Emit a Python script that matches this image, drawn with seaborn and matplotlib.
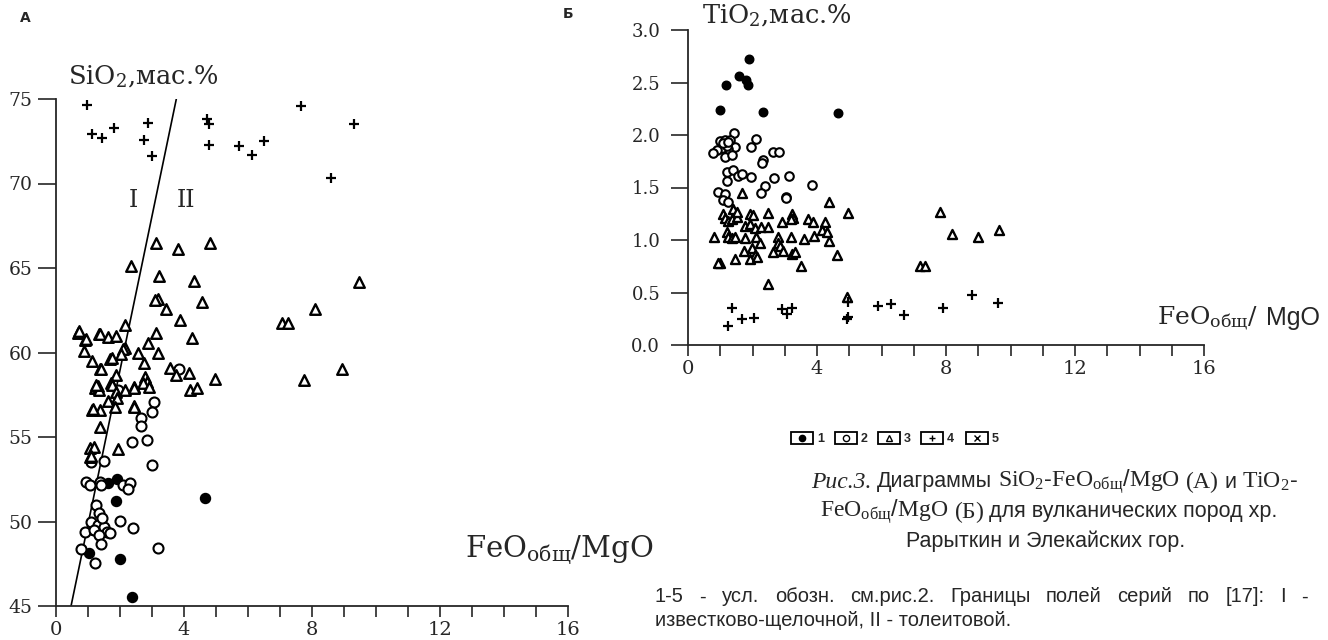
import numpy as np
import pandas as pd
import matplotlib
matplotlib.use('Agg')
import matplotlib.pyplot as plt
import seaborn as sns
from matplotlib.patches import Rectangle

# ---- data ----
# panel A: FeO(tot)/MgO vs SiO2
a_s1_x = [1.63, 1.92, 1.86, 4.66, 1.16, 1.03, 2.0, 2.38]
a_s1_y = [52.26, 52.5, 51.23, 51.41, 49.5, 48.15, 47.8, 45.55]

a_s2_x = [3.85, 3.05, 2.99, 2.65, 2.67, 2.38, 2.83, 3.0, 1.5, 0.95, 1.06, 1.37, 1.42,
          2.1, 2.31, 2.26, 1.24, 1.34, 1.1, 1.3, 1.5, 0.9, 1.2, 1.6, 1.35, 1.7, 1.45,
          2.0, 2.41, 1.4, 0.79, 1.23, 3.18, 1.95, 1.1]
a_s2_y = [59.0, 57.05, 56.46, 56.1, 55.65, 54.72, 54.82, 53.35, 53.58, 52.35, 52.16, 52.35, 52.16,
          52.16, 52.26, 51.9, 51.0, 50.48, 50.0, 49.8, 49.7, 49.4, 49.5, 49.4, 49.2, 49.3, 50.2,
          50.03, 49.6, 48.65, 48.4, 47.56, 48.45, 57.8, 53.5]

a_s3_x = [3.12, 3.82, 4.81, 2.34, 3.23, 4.3, 9.47, 3.2, 3.09, 4.56, 3.44, 3.88, 7.07, 7.25,
          8.08, 3.14, 4.24, 2.88, 3.2, 2.57, 2.76, 3.55, 4.16, 3.75, 4.97, 7.76, 8.93, 4.19,
          4.4, 2.78, 2.83, 2.73, 2.9, 2.43, 2.45, 2.43,
          0.69, 0.72, 0.9, 0.93, 0.88, 1.34, 1.38, 1.63, 1.86, 2.15, 2.15, 2.1, 2.03, 1.11,
          1.7, 1.74, 1.39, 1.42, 1.89, 1.21, 1.3, 1.35, 1.25, 1.71, 1.75, 1.89, 2.15, 2.45,
          1.63, 1.92, 1.84, 1.11, 1.37, 1.15, 1.37, 1.94, 1.06, 1.19, 1.06, 1.1]
a_s3_y = [66.46, 66.1, 66.5, 65.1, 64.5, 64.25, 64.2, 63.15, 63.1, 63.0, 62.6, 61.9, 61.75, 61.75,
          62.55, 61.15, 60.86, 60.56, 59.97, 59.97, 59.4, 59.1, 58.77, 58.65, 58.43, 58.37, 59.0, 57.8,
          57.9, 58.57, 58.27, 58.18, 57.98, 57.98, 56.85, 56.8,
          61.17, 61.25, 60.74, 60.8, 60.1, 61.08, 61.1, 60.94, 60.98, 61.63, 60.25, 60.2, 59.9, 59.5,
          59.6, 59.65, 59.0, 59.05, 58.67, 57.88, 58.0, 57.8, 58.1, 58.18, 58.1, 57.68, 57.78, 57.92,
          57.13, 57.29, 56.76, 56.6, 56.6, 56.65, 55.57, 54.27, 54.33, 54.43, 53.84, 53.9]

a_s4_x = [0.97, 1.11, 1.45, 1.82, 2.86, 2.74, 3.0, 4.73, 4.79, 4.79, 5.71, 6.12, 6.5, 7.67, 8.59, 9.32]
a_s4_y = [74.66, 72.9, 72.7, 73.3, 73.6, 72.6, 71.6, 73.8, 73.5, 72.3, 72.2, 71.7, 72.5, 74.6, 70.3, 73.5]

# boundary I / II (calc-alkaline / tholeiitic)
bound_x = [0.47, 3.76]
bound_y = [45, 75]

# panel B: FeO(tot)/MgO vs TiO2
b_s1_x = [1.9, 1.58, 1.8, 1.87, 1.18, 0.99, 2.32, 4.64]
b_s1_y = [2.72, 2.56, 2.52, 2.48, 2.48, 2.24, 2.22, 2.21]

b_s2_x = [1.44, 0.99, 1.15, 1.3, 1.46, 1.25, 1.04, 0.89, 0.78, 1.15, 1.35, 1.2, 1.1, 1.25,
          2.1, 1.95, 2.65, 2.82, 2.34, 2.28, 1.2, 1.4, 1.54, 1.68, 1.2, 1.95, 2.67, 3.14,
          2.39, 2.27, 3.85, 0.94, 1.15, 1.1, 1.25, 3.03, 3.05]
b_s2_y = [2.02, 1.94, 1.95, 1.95, 1.89, 1.87, 1.88, 1.86, 1.83, 1.79, 1.81, 1.9, 1.92, 1.93,
          1.96, 1.89, 1.84, 1.84, 1.76, 1.73, 1.65, 1.67, 1.61, 1.63, 1.56, 1.6, 1.59, 1.61,
          1.51, 1.45, 1.52, 1.46, 1.44, 1.38, 1.36, 1.41, 1.40]

b_s3_x = [1.68, 4.37, 4.97, 1.92, 2.03, 2.49, 3.21, 3.26, 3.19, 2.91, 3.73, 3.89, 4.25, 4.15,
          4.3, 4.38, 1.1, 1.15, 1.25, 1.35, 1.51, 1.4, 1.51, 0.82, 1.2, 1.25, 1.35, 1.46,
          1.77, 1.92, 1.77, 2.08, 2.26, 2.47, 2.11, 2.23, 2.8, 3.19, 3.6, 3.92, 2.8, 2.85,
          1.75, 1.98, 2.08, 1.92, 2.13, 2.65, 2.96, 3.24, 3.32, 4.61, 3.5, 0.99, 0.94, 1.46,
          2.47, 4.94, 7.81, 8.18, 9.0, 9.65, 7.19, 7.35]
b_s3_y = [1.45, 1.36, 1.26, 1.25, 1.24, 1.26, 1.25, 1.21, 1.2, 1.17, 1.2, 1.17, 1.17, 1.1,
          1.08, 0.99, 1.25, 1.21, 1.18, 1.2, 1.22, 1.3, 1.27, 1.03, 1.08, 1.03, 1.02, 1.03,
          1.13, 1.15, 1.02, 1.11, 1.12, 1.12, 1.03, 0.97, 1.03, 1.03, 1.01, 1.04, 0.97, 0.94,
          0.9, 0.92, 0.86, 0.82, 0.84, 0.89, 0.9, 0.87, 0.89, 0.86, 0.75, 0.78, 0.78, 0.82,
          0.58, 0.46, 1.27, 1.06, 1.03, 1.1, 0.755, 0.755]

b_s4_x = [1.35, 1.23, 1.68, 2.05, 2.92, 3.21, 3.06, 4.97, 4.92, 4.95, 5.9, 6.3, 6.7, 7.9, 8.8, 9.6]
b_s4_y = [0.35, 0.18, 0.25, 0.26, 0.34, 0.35, 0.3, 0.27, 0.25, 0.41, 0.37, 0.39, 0.29, 0.35, 0.48, 0.4]

legend_labels = ['1', '2', '3', '4', '5']

# ---- figure ----
sns.set_style('ticks')
plt.rcParams['font.family'] = ['DejaVu Serif']
plt.rcParams['mathtext.fontset'] = 'custom'
plt.rcParams['mathtext.rm'] = 'Liberation Serif'
plt.rcParams['mathtext.it'] = 'Liberation Serif:italic'
plt.rcParams['mathtext.bf'] = 'Liberation Serif:bold'

W, H = 1328, 640
fig = plt.figure(figsize=(W / 100, H / 100), dpi=100)


def fx(px):
    return px / W


def fy(py):
    return 1 - py / H


axA = fig.add_axes([fx(56), fy(606), (568 - 56) / W, (606 - 99) / H])
axB = fig.add_axes([fx(688), fy(345), (1204 - 688) / W, (345 - 30) / H])


def draw_points(ax, s1, s2, s3, s4, sc, st):
    sns.scatterplot(x=s1[0], y=s1[1], ax=ax, marker='o', s=sc, color='black',
                    edgecolor='black', linewidth=1.0, zorder=3)
    sns.scatterplot(x=s2[0], y=s2[1], ax=ax, marker='o', s=sc, facecolor='white',
                    edgecolor='black', linewidth=1.5, zorder=3)
    sns.scatterplot(x=s3[0], y=s3[1], ax=ax, marker='^', s=st, facecolor='white',
                    edgecolor='black', linewidth=1.7, zorder=3)
    sns.scatterplot(x=s4[0], y=s4[1], ax=ax, marker='+', s=st, color='black',
                    linewidth=1.6, zorder=3)


draw_points(axA, (a_s1_x, a_s1_y), (a_s2_x, a_s2_y), (a_s3_x, a_s3_y), (a_s4_x, a_s4_y), 52, 58)
axA.plot(bound_x, bound_y, color='black', lw=1.2, zorder=2)
draw_points(axB, (b_s1_x, b_s1_y), (b_s2_x, b_s2_y), (b_s3_x, b_s3_y), (b_s4_x, b_s4_y), 38, 42)

for ax in (axA, axB):
    sns.despine(ax=ax)
    ax.spines['left'].set_linewidth(1.3)
    ax.spines['bottom'].set_linewidth(1.3)
    ax.set_xlim(0, 16)
    ax.set_xticks([0, 4, 8, 12, 16])
    ax.set_xticks(range(17), minor=True)
    ax.tick_params(axis='x', which='both', direction='out', length=8, width=1.2,
                   labelsize=14, pad=3)
    ax.set_xlabel('')
    ax.set_ylabel('')

axA.set_ylim(45, 75)
axA.set_yticks(range(45, 76, 5))
axA.tick_params(axis='y', direction='out', length=13, width=1.2, labelsize=13.5, pad=4)

axB.set_ylim(0, 3.0)
axB.set_yticks(np.arange(0, 3.01, 0.5))
axB.set_yticklabels([f'{v:.1f}' for v in np.arange(0, 3.01, 0.5)])
axB.tick_params(axis='y', direction='out', length=12, width=1.2, labelsize=13, pad=8)

# axis titles and field labels
fig.text(fx(68), fy(77), r'SiO$_\mathregular{2}$,мас.%', fontsize=18.5, va='center')
axA.text(2.41, 69.0, 'I', fontsize=17, ha='center', va='center')
axA.text(4.07, 69.0, 'II', fontsize=17, ha='center', va='center')
fig.text(fx(465), fy(550), r'FeO$_\mathregular{общ}$/MgO', fontsize=21, va='center')

fig.text(fx(702), fy(16), r'TiO$_\mathregular{2}$,мас.%', fontsize=18.5, va='center')
fig.text(fx(1258), fy(318), r'FeO$_\mathregular{общ}$/', fontsize=18, va='center', ha='right')
fig.text(fx(1266), fy(318), 'MgO', fontsize=18, va='center', ha='left', family='Liberation Sans')

fig.text(fx(20), fy(18), 'А', fontsize=10, fontweight='bold', family='DejaVu Sans', va='center')
fig.text(fx(563), fy(14), 'Б', fontsize=10, fontweight='bold', family='DejaVu Sans', va='center')

# legend row
axL = fig.add_axes([fx(780), fy(452), 240 / W, 28 / H])
axL.set_xlim(780, 1020)
axL.set_ylim(452, 424)
axL.axis('off')
box_x = [791, 835, 878, 921, 966]
leg_markers = [('o', 'black'), ('o', 'white'), ('^', 'white'), ('+', 'black'), ('x', 'black')]
for bx, lab, (mk, fc) in zip(box_x, legend_labels, leg_markers):
    axL.add_patch(Rectangle((bx, 432), 22, 12, fill=False, lw=1.3, ec='black'))
    axL.plot([bx + 11], [438], marker=mk, ms=5 if mk != 'o' else 4.5, mfc=fc, mec='black', mew=1.0)
    axL.text(bx + 26, 438.5, lab, fontsize=9, family='Liberation Sans', fontweight='bold',
             va='center', ha='left')

# caption
cap_kw = dict(family='Liberation Sans', va='center')
renderer = fig.canvas.get_renderer()


def make_pieces(pieces, py, size):
    texts = []
    for s, extra in pieces:
        kw = dict(cap_kw)
        kw['fontsize'] = size
        kw.update(extra)
        texts.append(fig.text(0, fy(py), s, **kw))
    widths = [t.get_window_extent(renderer).width for t in texts]
    return texts, widths


def justify(pieces, x0, x1, py, size):
    texts, widths = make_pieces(pieces, py, size)
    gap = (x1 - x0 - sum(widths)) / (len(texts) - 1)
    xpos = x0
    for t, w in zip(texts, widths):
        t.set_x(fx(xpos))
        xpos += w + gap


def centered(pieces, xc, py, size, gap=5):
    texts, widths = make_pieces(pieces, py, size)
    xpos = xc - (sum(widths) + gap * (len(texts) - 1)) / 2
    for t, w in zip(texts, widths):
        t.set_x(fx(xpos))
        xpos += w + gap


chem = dict(fontsize=17)
line1 = [('Рис.3.', dict(style='italic', family='Liberation Serif', fontsize=17)),
         ('Диаграммы', {}),
         (r'$\mathrm{SiO_2}$-$\mathrm{FeO_{общ}}$/$\mathrm{MgO}$', chem),
         (r'$\mathrm{(А)}$', chem),
         ('и', {}),
         (r'$\mathrm{TiO_2}$-', chem)]
justify(line1, 811, 1298, 482, 15.5)
line2 = [(r'$\mathrm{FeO_{общ}}$/$\mathrm{MgO}$', chem),
         (r'$\mathrm{(Б)}$', chem),
         ('для вулканических пород хр.', {})]
centered(line2, 1049, 512, 15.5)
fig.text(fx(1046), fy(541), 'Рарыткин и Элекайских гор.', fontsize=15.5, ha='center', **cap_kw)

# footnote, first line justified
foot1 = '1-5 - усл. обозн. см.рис.2. Границы полей серий по [17]: I -'
justify([(w, {}) for w in foot1.split(' ')], 655, 1308, 597, 14.5)
fig.text(fx(655), fy(621), 'известково-щелочной, II - толеитовой.', fontsize=14.5, **cap_kw)

fig.savefig('out.png', dpi=100)
